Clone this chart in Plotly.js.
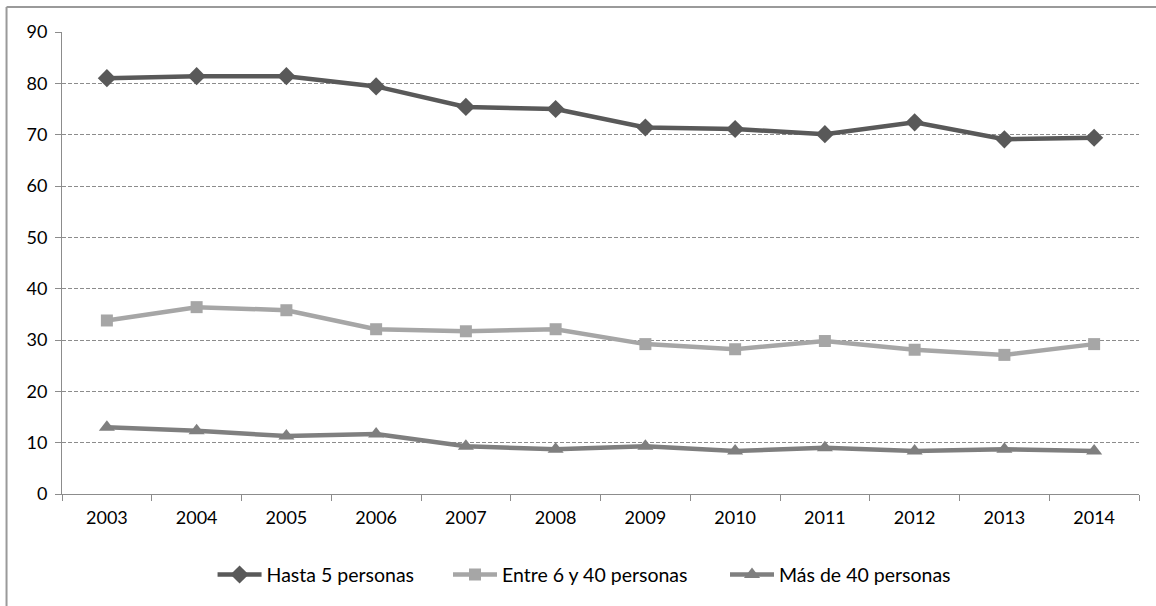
<!DOCTYPE html>
<html>
<head>
<meta charset="utf-8">
<script src="https://cdn.plot.ly/plotly-3.0.1.min.js"></script>
<style>
  html, body { margin: 0; padding: 0; background: #ffffff; }
  #chart { width: 1156px; height: 606px; }
</style>
</head>
<body>
<div id="chart"></div>
<script>
// Years on the category axis
const years = ['2003', '2004', '2005', '2006', '2007', '2008', '2009', '2010', '2011', '2012', '2013', '2014'];

// Share of firms by size (%)
const hasta5 = [81.0, 81.4, 81.4, 79.4, 75.4, 75.0, 71.4, 71.1, 70.1, 72.4, 69.1, 69.4];
const entre6y40 = [33.8, 36.4, 35.8, 32.1, 31.7, 32.1, 29.2, 28.2, 29.8, 28.1, 27.1, 29.2];
const mas40 = [13.0, 12.3, 11.3, 11.7, 9.3, 8.7, 9.3, 8.4, 9.0, 8.4, 8.7, 8.4];

const seriesNames = ['Hasta 5 personas', 'Entre 6 y 40 personas', 'Más de 40 personas'];

const fontFamily = 'Lato, "Open Sans", sans-serif';
const frameColor = '#9a9a9a';
const axisColor = '#8c8c8c';

const traces = [
  {
    x: years, y: hasta5, name: seriesNames[0], type: 'scatter', mode: 'lines+markers',
    line: { color: '#595959', width: 4.5 },
    marker: { symbol: 'diamond', size: 14, color: '#595959' },
    legend: 'legend'
  },
  {
    x: years, y: entre6y40, name: seriesNames[1], type: 'scatter', mode: 'lines+markers',
    line: { color: '#a6a6a6', width: 4.5 },
    marker: { symbol: 'square', size: 12, color: '#a6a6a6' },
    legend: 'legend2'
  },
  {
    x: years, y: mas40, name: seriesNames[2], type: 'scatter', mode: 'lines+markers',
    line: { color: '#7f7f7f', width: 4.5 },
    marker: { symbol: 'triangle-up', size: 14, color: '#7f7f7f' },
    legend: 'legend3'
  }
];

// one legend box per series, laid out in a row under the axis
function legendAt(xPaper) {
  return {
    orientation: 'h',
    x: xPaper, xanchor: 'left',
    y: -0.175, yanchor: 'middle',
    font: { family: fontFamily, size: 19.5, color: '#000000' },
    itemwidth: 44,
    bgcolor: 'rgba(0,0,0,0)'
  };
}

const layout = {
  width: 1156,
  height: 606,
  paper_bgcolor: '#ffffff',
  plot_bgcolor: '#ffffff',
  margin: { l: 62, r: 17, t: 32, b: 110 },
  font: { family: fontFamily, size: 18, color: '#000000' },
  showlegend: true,
  legend: legendAt(0.1398),
  legend2: legendAt(0.3584),
  legend3: legendAt(0.6156),
  xaxis: {
    type: 'category',
    range: [-0.5, 11.5],
    showgrid: false,
    zeroline: false,
    showline: true,
    linecolor: axisColor,
    linewidth: 1,
    ticks: 'outside',
    tickson: 'boundaries',
    ticklen: 6,
    tickcolor: axisColor,
    tickfont: { family: fontFamily, size: 18, color: '#000000' },
    ticklabelstandoff: 7,
    fixedrange: true
  },
  yaxis: {
    range: [0, 90],
    dtick: 10,
    tick0: 0,
    showgrid: true,
    gridcolor: axisColor,
    gridwidth: 1,
    griddash: '4px,2px',
    zeroline: false,
    showline: true,
    linecolor: axisColor,
    linewidth: 1,
    ticks: 'outside',
    ticklen: 6,
    tickcolor: axisColor,
    tickfont: { family: fontFamily, size: 18, color: '#000000' },
    ticklabelstandoff: 4,
    fixedrange: true
  },
  shapes: [
    // chart frame: left edge
    {
      type: 'line', xref: 'paper', yref: 'paper',
      x0: -0.0515, x1: -0.0515, y0: -0.3, y1: 1.054,
      line: { color: frameColor, width: 2 }, layer: 'below'
    },
    // chart frame: top edge
    {
      type: 'line', xref: 'paper', yref: 'paper',
      x0: -0.0515, x1: 1.1, y0: 1.054, y1: 1.054,
      line: { color: frameColor, width: 2 }, layer: 'below'
    }
  ]
};

Plotly.newPlot('chart', traces, layout, { displayModeBar: false, staticPlot: true });
</script>
</body>
</html>
